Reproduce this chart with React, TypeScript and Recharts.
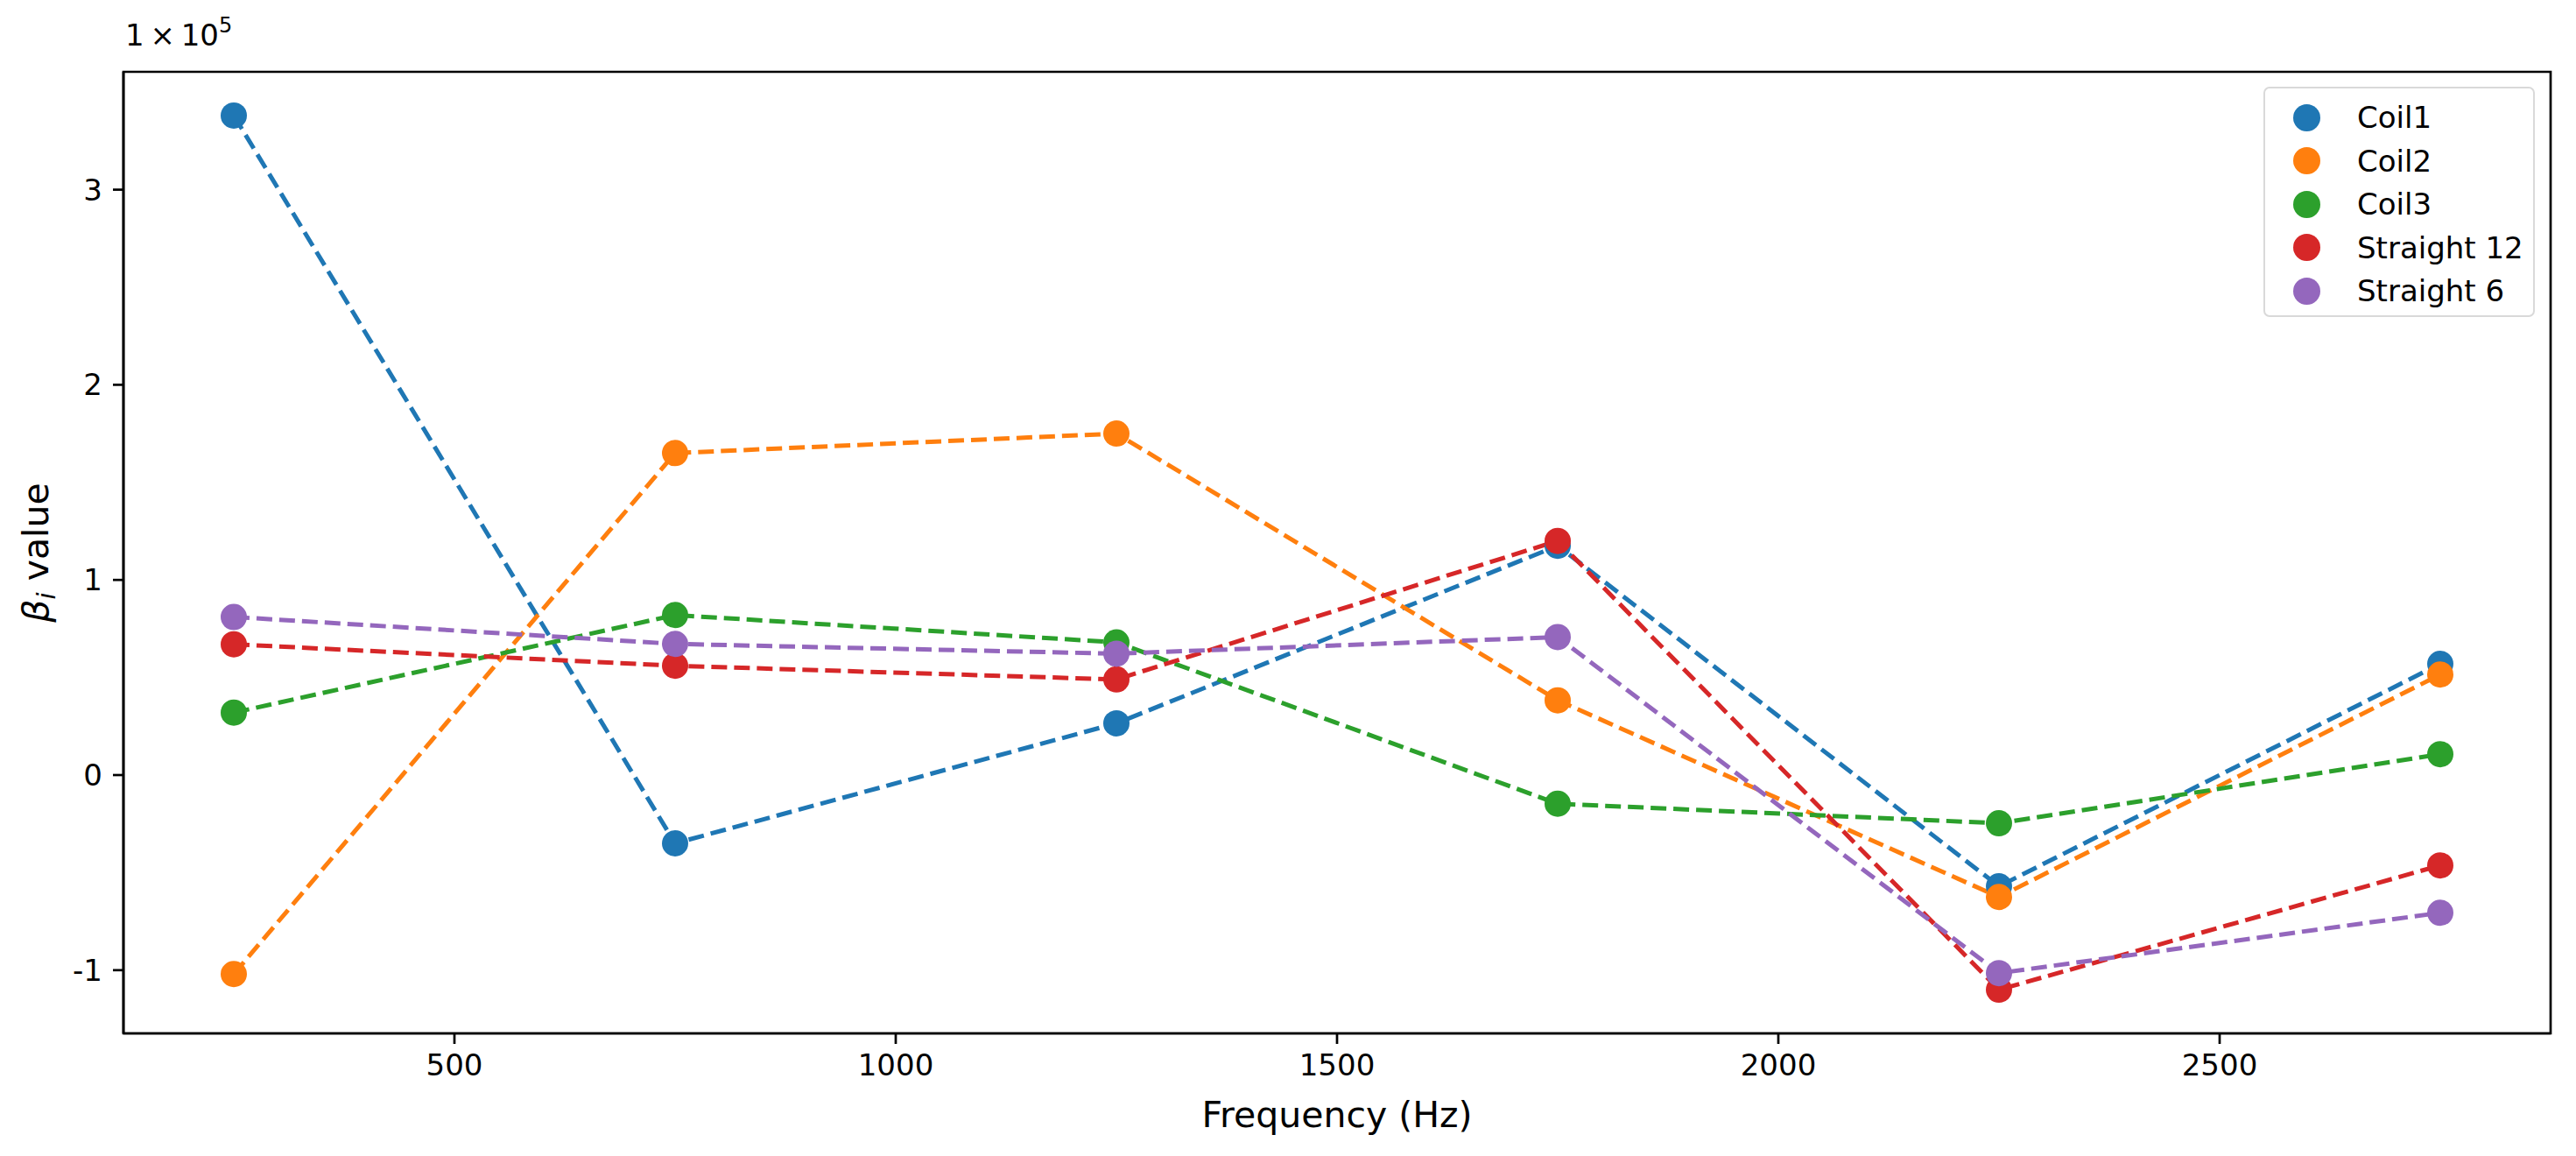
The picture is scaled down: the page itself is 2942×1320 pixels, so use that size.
import { LineChart, Line, XAxis, YAxis, ReferenceArea } from 'recharts';

// frequency bins (Hz)
const FREQUENCIES = [250, 750, 1250, 1750, 2250, 2750];

// beta_i values
const COIL1 = [3.38e5, -0.35e5, 0.265e5, 1.175e5, -0.57e5, 0.57e5];
const COIL2 = [-1.02e5, 1.65e5, 1.75e5, 0.383e5, -0.625e5, 0.515e5];
const COIL3 = [0.32e5, 0.82e5, 0.68e5, -0.147e5, -0.247e5, 0.107e5];
const STRAIGHT_12 = [0.67e5, 0.56e5, 0.49e5, 1.2e5, -1.1e5, -0.463e5];
const STRAIGHT_6 = [0.81e5, 0.672e5, 0.622e5, 0.707e5, -1.015e5, -0.706e5];

const SERIES_NAMES = ['Coil1', 'Coil2', 'Coil3', 'Straight 12', 'Straight 6'];
const SERIES_COLORS = ['#1f77b4', '#ff7f0e', '#2ca02c', '#d62728', '#9467bd'];
const SERIES_VALUES = [COIL1, COIL2, COIL3, STRAIGHT_12, STRAIGHT_6];

const X_TICKS = [500, 1000, 1500, 2000, 2500];
const Y_TICKS = [-1e5, 0, 1e5, 2e5, 3e5];

const FONT = '"DejaVu Sans", sans-serif';

const keys = SERIES_NAMES.map((_, i) => `s${i}`);

const data = FREQUENCIES.map((freq, i) => {
  const row: Record<string, number> = { freq };
  keys.forEach((k, j) => {
    row[k] = SERIES_VALUES[j][i];
  });
  return row;
});

// matplotlib-style autoscale with 5% margins
const allValues = SERIES_VALUES.flat();
const yLo = Math.min(...allValues);
const yHi = Math.max(...allValues);
const yPad = (yHi - yLo) * 0.05;
const Y_DOMAIN = [yLo - yPad, yHi + yPad];
const xPad = (FREQUENCIES[FREQUENCIES.length - 1] - FREQUENCIES[0]) * 0.05;
const X_DOMAIN = [FREQUENCIES[0] - xPad, FREQUENCIES[FREQUENCIES.length - 1] + xPad];

const axisStroke = { stroke: '#000', strokeWidth: 2.7 };
const tickStyle = { fill: '#000', fontSize: 34, fontFamily: FONT };

function YLabel() {
  return (
    <text transform="rotate(-90)" x={-631} y={55} textAnchor="middle" fontFamily={FONT} fontSize={41} fill="#000">
      <tspan fontStyle="italic">β</tspan>
      <tspan fontStyle="italic" fontSize={29} dy={8}>i</tspan>
      <tspan dy={-8}> value</tspan>
    </text>
  );
}

function XLabel() {
  return (
    <text x={1527} y={1287} textAnchor="middle" fontFamily={FONT} fontSize={41} fill="#000">
      Frequency (Hz)
    </text>
  );
}

export default function App() {
  return (
    <div style={{ position: 'absolute', left: 0, top: 0, width: 2942, height: 1320, background: '#fff' }}>
      <LineChart width={2942} height={1320} data={data} margin={{ top: 82, right: 29, left: 0, bottom: 0 }}>
        <XAxis
          dataKey="freq"
          type="number"
          domain={X_DOMAIN}
          ticks={X_TICKS}
          interval={0}
          allowDataOverflow
          height={140}
          tickSize={12}
          tickMargin={12}
          tick={tickStyle}
          axisLine={axisStroke}
          tickLine={axisStroke}
          label={{ content: XLabel }}
        />
        <YAxis
          type="number"
          domain={Y_DOMAIN}
          ticks={Y_TICKS}
          interval={0}
          allowDataOverflow
          width={141}
          tickSize={12}
          tickMargin={12}
          tick={tickStyle}
          tickFormatter={(v: number) => String(Math.round(v / 1e5))}
          axisLine={axisStroke}
          tickLine={axisStroke}
          label={{ content: YLabel }}
        />
        <ReferenceArea
          x1={X_DOMAIN[0]}
          x2={X_DOMAIN[1]}
          y1={Y_DOMAIN[0]}
          y2={Y_DOMAIN[1]}
          fill="none"
          stroke="#000"
          strokeWidth={2.7}
          ifOverflow="visible"
        />
        {/* scatter markers sit under the dashed lines, as in matplotlib */}
        {keys.map((k, i) => (
          <Line
            key={`dot-${k}`}
            dataKey={k}
            stroke="none"
            dot={{ r: 15, fill: SERIES_COLORS[i], stroke: 'none', strokeWidth: 0 }}
            activeDot={false}
            legendType="none"
            isAnimationActive={false}
          />
        ))}
        {keys.map((k, i) => (
          <Line
            key={`line-${k}`}
            dataKey={k}
            stroke={SERIES_COLORS[i]}
            strokeWidth={5}
            strokeDasharray="18 8"
            dot={false}
            activeDot={false}
            legendType="none"
            isAnimationActive={false}
          />
        ))}
      </LineChart>

      <svg style={{ position: 'absolute', left: 0, top: 0 }} width={400} height={80}>
        <text x={143} y={52} fontFamily={FONT} fontSize={34} fill="#000">
          1{'\u2009'}×{'\u2009'}10
          <tspan fontSize={24} dy={-15}>5</tspan>
        </text>
      </svg>

      <div
        style={{
          position: 'absolute',
          left: 2585,
          top: 99,
          width: 310,
          height: 263,
          boxSizing: 'border-box',
          border: '2px solid #d9d9d9',
          borderRadius: 7,
          background: 'rgba(255,255,255,0.8)',
          fontFamily: FONT,
          fontSize: 34,
          color: '#000',
        }}
      >
        {SERIES_NAMES.map((name, i) => (
          <div
            key={name}
            style={{ position: 'absolute', left: 0, top: 8 + i * 49.5, height: 50, display: 'flex', alignItems: 'center' }}
          >
            <span
              style={{
                position: 'absolute',
                left: 32,
                width: 31,
                height: 31,
                borderRadius: '50%',
                background: SERIES_COLORS[i],
              }}
            />
            <span style={{ position: 'absolute', left: 105, whiteSpace: 'nowrap', lineHeight: '50px', top: 0 }}>{name}</span>
          </div>
        ))}
      </div>
    </div>
  );
}
